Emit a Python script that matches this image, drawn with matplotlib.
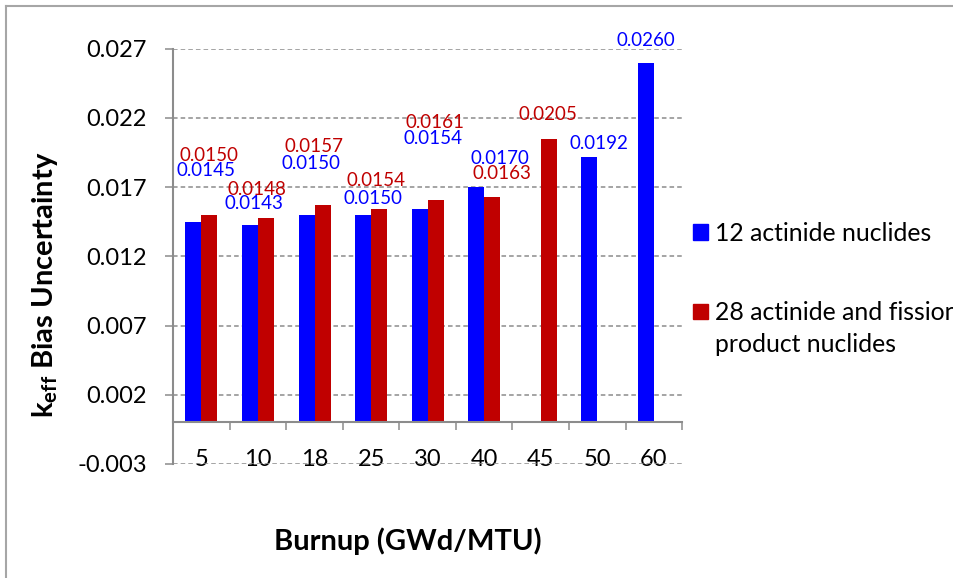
import numpy as np
import matplotlib
matplotlib.use("Agg")
import matplotlib.pyplot as plt
from matplotlib.patches import Rectangle
from matplotlib.lines import Line2D

plt.rcParams['font.family'] = ['Lato', 'DejaVu Sans']
plt.rcParams['mathtext.fontset'] = 'custom'
plt.rcParams['mathtext.rm'] = 'Lato'
plt.rcParams['mathtext.bf'] = 'Lato:bold'

# ---- data ----
categories = ['5', '10', '18', '25', '30', '40', '45', '50', '60']
series_names = ['12 actinide nuclides', '28 actinide and fission\nproduct nuclides']
blue_vals = [0.0145, 0.0143, 0.0150, 0.0150, 0.0154, 0.0170, np.nan, 0.0192, 0.0260]
red_vals = [0.0150, 0.0148, 0.0157, 0.0154, 0.0161, 0.0163, 0.0205, np.nan, np.nan]
ytick_vals = [-0.003, 0.002, 0.007, 0.012, 0.017, 0.022, 0.027]
ytick_labels = ['-0.003', '0.002', '0.007', '0.012', '0.017', '0.022', '0.027']

# ---- styles / label offsets (pixels, relative to bar top) ----
blue_off = [(12.5, 50.8), (4.4, 21.5), (4.8, 50.9), (10.2, 16.2), (13.1, 71.0),
            (23.5, 28.5), None, (9.8, 13.4), (0.0, 21.9)]
red_off = [(-0.5, 59.2), (-8.6, 27.6), (-8.7, 58.5), (-3.3, 28.6), (-0.9, 76.9),
           (10.0, 23.6), (-0.6, 23.7), None, None]
BLUE = '#0000FF'
RED = '#C00000'
GRAY = '#8C8C8C'

W, H = 954, 578
fig = plt.figure(figsize=(W / 100, H / 100), dpi=100)
ax = fig.add_axes([173.2 / W, 1 - 464 / H, (682.1 - 173.2) / W, (464 - 48.7) / H])

n = len(categories)
x = np.arange(n)
bw = 0.283
ax.bar(x - bw / 2, blue_vals, bw, color=BLUE, zorder=2)
ax.bar(x + bw / 2, red_vals, bw, color=RED, zorder=2)

ax.set_xlim(-0.5, n - 0.5)
ax.set_ylim(-0.003, 0.027)

# data labels
for i in range(n):
    if not np.isnan(blue_vals[i]) and blue_off[i] is not None:
        dx, dy = blue_off[i]
        ax.annotate(f"{blue_vals[i]:.4f}", xy=(x[i] - bw / 2, blue_vals[i]),
                    xytext=(dx, dy), textcoords='offset pixels', ha='center', va='center',
                    color=BLUE, fontsize=13.5, zorder=4)
    if not np.isnan(red_vals[i]) and red_off[i] is not None:
        dx, dy = red_off[i]
        ax.annotate(f"{red_vals[i]:.4f}", xy=(x[i] + bw / 2, red_vals[i]),
                    xytext=(dx, dy), textcoords='offset pixels', ha='center', va='center',
                    color=RED, fontsize=13.5, zorder=4)

# y axis
ax.set_yticks(ytick_vals)
ax.set_yticklabels(ytick_labels, fontsize=17)
ax.tick_params(axis='y', length=5.8, width=1.1, color=GRAY, pad=13)
ax.yaxis.grid(True, linestyle=(0, (3, 2)), color=GRAY, linewidth=1.1)
ax.set_axisbelow(True)

# x axis at zero
ax.spines['bottom'].set_position(('data', 0))
ax.spines['top'].set_visible(False)
ax.spines['right'].set_visible(False)
for s in ('left', 'bottom'):
    ax.spines[s].set_color(GRAY)
    ax.spines[s].set_linewidth(1.5)
ax.set_xticks(np.arange(-0.5, n, 1.0))
ax.set_xticklabels([''] * (n + 1))
ax.tick_params(axis='x', which='major', length=5.8, width=1.1, color=GRAY, direction='out')
ax.set_xticks(x, minor=True)
ax.set_xticklabels(categories, minor=True, fontsize=17)
ax.tick_params(axis='x', which='minor', length=0, pad=19)

# axis titles
fig.text(45 / W, 1 - 285 / H, r'k$_{\mathbf{eff}}$ Bias Uncertainty', rotation=90,
         ha='center', va='center', fontsize=21, fontweight='bold')
fig.text(408 / W, 1 - 541.7 / H, 'Burnup (GWd/MTU)', ha='center', va='center',
         fontsize=21, fontweight='bold')

# legend (manual)
leg_items = [(series_names[0], BLUE, 240.7), (series_names[1], RED, 320.0)]
for name, col, base in leg_items:
    fig.add_artist(Rectangle((693.3 / W, 1 - (base - 1) / H), 14.5 / W, 15.5 / H,
                             transform=fig.transFigure, color=col))
    for k, line in enumerate(name.split('\n')):
        fig.text(715 / W, 1 - (base + 31.7 * k) / H, line, ha='left', va='baseline',
                 fontsize=17.8)

# chart border (top & left visible)
fig.add_artist(Line2D([6.5 / W, 6.5 / W], [0, 1 - 6 / H], transform=fig.transFigure,
                      color='#A6A6A6', lw=1.5))
fig.add_artist(Line2D([6.5 / W, 1], [1 - 6 / H, 1 - 6 / H], transform=fig.transFigure,
                      color='#A6A6A6', lw=1.5))

fig.savefig('out.png', dpi=100)
